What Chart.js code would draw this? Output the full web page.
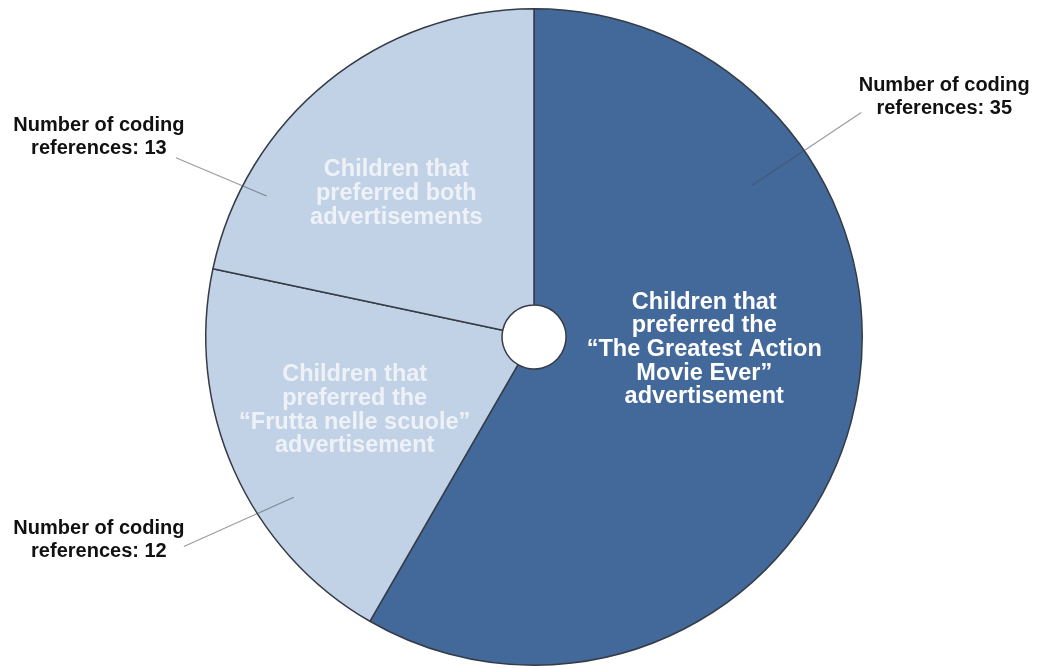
<!DOCTYPE html>
<html>
<head>
<meta charset="utf-8">
<script src="https://cdn.jsdelivr.net/npm/chart.js@4"></script>
<style>
  html, body { margin: 0; padding: 0; background: #ffffff; }
  #wrap { width: 1041px; height: 668px; position: relative; }
</style>
</head>
<body>
<div id="wrap"><canvas id="c" width="1041" height="668"></canvas></div>
<script>
// ---- data ----
const categories = [
  'Children that preferred the “The Greatest Action Movie Ever” advertisement',
  'Children that preferred the “Frutta nelle scuole” advertisement',
  'Children that preferred both advertisements'
];
const insideLabelLines = [
  ['Children that', 'preferred the', '“The Greatest Action', 'Movie Ever”', 'advertisement'],
  ['Children that', 'preferred the', '“Frutta nelle scuole”', 'advertisement'],
  ['Children that', 'preferred both', 'advertisements']
];
const codingReferences = [35, 12, 13];
const outsideLabelPrefix = ['Number of coding', 'references: '];

// ---- style / layout ----
const sliceColors = ['#43699a', '#c2d2e6', '#c2d2e6'];
const insideTextColors = ['#ffffff', '#eef2f8', '#eef2f8'];
// angle in degrees clockwise from 12 o'clock, radius as fraction of outer radius
const insidePos = [ {a: 94.2, r: 0.52}, {a: 247.8, r: 0.59}, {a: 316.2, r: 0.606} ];
const leaderPos = [
  {a0: 55.2, r0: 0.81, a1: 55.55, r1: 1.209},
  {a0: 236.3, r0: 0.88, a1: 239.1, r1: 1.243},
  {a0: 297.8, r0: 0.921, a1: 296.6, r1: 1.22}
];
const outsideTextOffset = [ {dx: 83, dy: -16}, {dx: -85, dy: -7}, {dx: -77, dy: -20.5} ];

function polar(cx, cy, deg, r) {
  const t = (deg - 90) * Math.PI / 180;
  return { x: cx + Math.cos(t) * r, y: cy + Math.sin(t) * r };
}

const labelPlugin = {
  id: 'sliceLabels',
  afterDatasetsDraw(chart) {
    const ctx = chart.ctx;
    const meta = chart.getDatasetMeta(0);
    meta.data.forEach((arc, i) => {
      const p = arc.getProps(['x', 'y', 'outerRadius'], true);
      const R = p.outerRadius;
      // leader line
      const lp = leaderPos[i];
      const a = polar(p.x, p.y, lp.a0, R * lp.r0);
      const b = polar(p.x, p.y, lp.a1, R * lp.r1);
      ctx.save();
      ctx.strokeStyle = 'rgba(70,75,85,0.55)';
      ctx.lineWidth = 1.2;
      ctx.beginPath();
      ctx.moveTo(a.x, a.y);
      ctx.lineTo(b.x, b.y);
      ctx.stroke();
      // outside text
      ctx.fillStyle = '#111111';
      ctx.font = 'bold 20px "Liberation Sans", Arial, sans-serif';
      ctx.textAlign = 'center';
      ctx.textBaseline = 'middle';
      const oo = outsideTextOffset[i];
      const lines = [outsideLabelPrefix[0], outsideLabelPrefix[1] + codingReferences[i]];
      lines.forEach((ln, k) => {
        ctx.fillText(ln, b.x + oo.dx, b.y + oo.dy + (k - 0.5) * 23);
      });
      // inside text
      const ip = insidePos[i];
      const c = polar(p.x, p.y, ip.a, R * ip.r);
      ctx.fillStyle = insideTextColors[i];
      ctx.font = 'bold 23.5px "Liberation Sans", Arial, sans-serif';
      const il = insideLabelLines[i];
      il.forEach((ln, k) => {
        ctx.fillText(ln, c.x, c.y + (k - (il.length - 1) / 2) * 23.7);
      });
      ctx.restore();
    });
  }
};

new Chart(document.getElementById('c'), {
  type: 'doughnut',
  data: {
    labels: categories,
    datasets: [{
      data: codingReferences,
      backgroundColor: sliceColors,
      borderColor: '#353c47',
      borderWidth: 1.5,
      borderAlign: 'center'
    }]
  },
  options: {
    responsive: false,
    animation: false,
    cutout: 32,
    rotation: 0,
    layout: { padding: { left: 205, right: 178, top: 8, bottom: 2 } },
    plugins: { legend: { display: false }, tooltip: { enabled: false } }
  },
  plugins: [labelPlugin]
});
</script>
</body>
</html>
